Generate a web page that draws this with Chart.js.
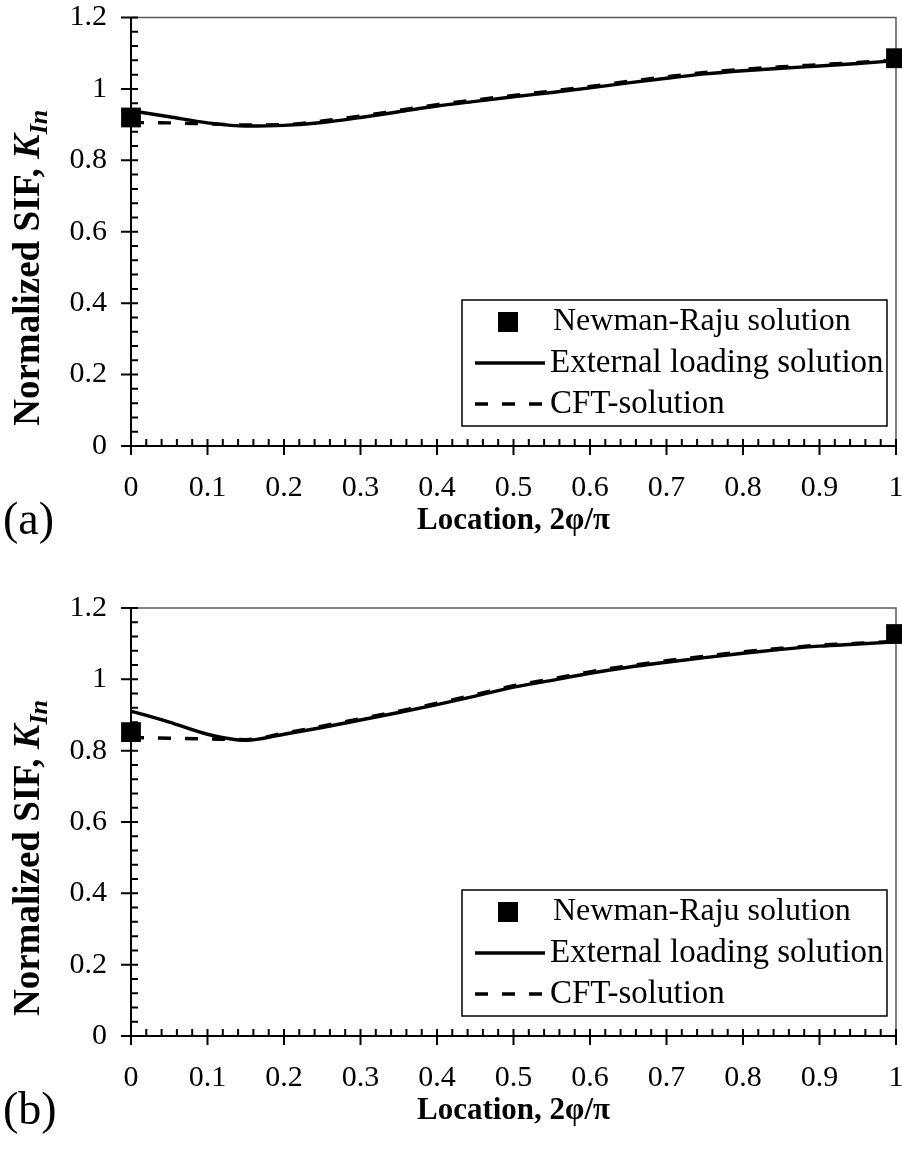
<!DOCTYPE html>
<html>
<head>
<meta charset="utf-8">
<script src="https://cdn.jsdelivr.net/npm/chart.js@4.4.1/dist/chart.umd.min.js"></script>
<style>
  body { margin: 0; background: #fff; }
  canvas { display: block; }
</style>
</head>
<body>
<canvas id="chartA" width="902" height="575"></canvas>
<canvas id="chartB" width="902" height="574"></canvas>
<script>
// location along the crack front, 2phi/pi
const locations = [0, 0.05, 0.1, 0.15, 0.2, 0.25, 0.3, 0.35, 0.4, 0.45, 0.5,
                   0.55, 0.6, 0.65, 0.7, 0.75, 0.8, 0.85, 0.9, 0.95, 1];

// (a)
const externalA = [0.939, 0.922, 0.905, 0.896, 0.898, 0.906, 0.920, 0.936, 0.952, 0.965, 0.978,
                   0.990, 1.003, 1.017, 1.030, 1.042, 1.051, 1.058, 1.064, 1.071, 1.079];
const cftA = [0.906, 0.905, 0.902, 0.899, 0.900, 0.910, 0.924, 0.940, 0.956, 0.969, 0.982,
              0.994, 1.007, 1.021, 1.034, 1.046, 1.055, 1.062, 1.068, 1.074, 1.081];
const newmanX = [0, 1];
const newmanA = [0.920, 1.086];

// (b)
const externalB = [0.911, 0.880, 0.846, 0.829, 0.846, 0.865, 0.886, 0.907, 0.929, 0.953, 0.978,
                   0.997, 1.017, 1.034, 1.048, 1.061, 1.073, 1.084, 1.093, 1.099, 1.105];
const cftB = [0.837, 0.835, 0.833, 0.831, 0.849, 0.869, 0.890, 0.911, 0.933, 0.957, 0.982,
              1.001, 1.021, 1.038, 1.052, 1.065, 1.077, 1.087, 1.096, 1.101, 1.107];
const newmanB = [0.852, 1.127];

const legendLabels = ['Newman-Raju solution', 'External loading solution', 'CFT-solution'];
const xTickStep = 0.1, xMinorStep = 0.02;
const yTickStep = 0.2, yMinorStep = 0.04;

const SERIF = '"Liberation Serif", "Times New Roman", serif';

function toPoints(xs, ys) {
    return xs.map((x, i) => ({ x: x, y: ys[i] }));
}

function tickText(v) {
    return String(Number(v.toFixed(2)));
}

// axes, tick marks, plot border, legend and titles
const axesPlugin = {
    id: 'sifAxes',
    beforeDatasetsDraw(chart) {
        const ctx = chart.ctx;
        const a = chart.chartArea;
        const xs = chart.scales.x, ys = chart.scales.y;
        ctx.save();
        ctx.strokeStyle = '#595959';
        ctx.lineWidth = 1.5;
        ctx.beginPath();
        ctx.moveTo(a.left, a.top);
        ctx.lineTo(a.right, a.top);
        ctx.lineTo(a.right, a.bottom);
        ctx.stroke();

        ctx.strokeStyle = '#000';
        ctx.lineWidth = 2;
        ctx.beginPath();
        ctx.moveTo(a.left - 10, a.bottom);
        ctx.lineTo(a.right, a.bottom);
        ctx.moveTo(a.left, a.top);
        ctx.lineTo(a.left, a.bottom + 9);
        for (let i = 0; i <= Math.round(1 / xMinorStep); i++) {
            const px = xs.getPixelForValue(i * xMinorStep);
            const major = i % Math.round(xTickStep / xMinorStep) === 0;
            ctx.moveTo(px, a.bottom - 7);
            ctx.lineTo(px, major ? a.bottom + 9 : a.bottom);
        }
        for (let i = 0; i <= Math.round(1.2 / yMinorStep); i++) {
            const py = ys.getPixelForValue(i * yMinorStep);
            const major = i % Math.round(yTickStep / yMinorStep) === 0;
            ctx.moveTo(a.left + 7, py);
            ctx.lineTo(major ? a.left - 10 : a.left, py);
        }
        ctx.stroke();
        ctx.restore();
    },
    afterDraw(chart, args, opts) {
        const ctx = chart.ctx;
        const a = chart.chartArea;
        const ds = chart.data.datasets;
        ctx.save();

        // legend box
        const bw = 425, bh = 126;
        const bx = a.right - 9 - bw, by = a.bottom - 20 - bh;
        ctx.fillStyle = '#fff';
        ctx.fillRect(bx, by, bw, bh);
        ctx.strokeStyle = '#000';
        ctx.lineWidth = 1.5;
        ctx.strokeRect(bx, by, bw, bh);

        const rows = [by + 22, by + 63, by + 104];
        ctx.fillStyle = '#000';
        ctx.fillRect(bx + 46 - 10, rows[0] - 10, 20, 20);
        [1, 2].forEach(k => {
            ctx.beginPath();
            ctx.lineWidth = ds[k].borderWidth;
            ctx.setLineDash(ds[k].borderDash || []);
            ctx.moveTo(bx + 13, rows[k]);
            ctx.lineTo(bx + 83, rows[k]);
            ctx.stroke();
        });
        ctx.setLineDash([]);
        ctx.font = '32px ' + SERIF;
        ctx.textBaseline = 'middle';
        ctx.textAlign = 'left';
        ctx.fillText(legendLabels[0], bx + 91, rows[0]);
        ctx.font = '33px ' + SERIF;
        ctx.fillText(legendLabels[1], bx + 88, rows[1]);
        ctx.fillText(legendLabels[2], bx + 88, rows[2]);

        // x axis title
        ctx.font = 'bold 31px ' + SERIF;
        ctx.textAlign = 'center';
        ctx.fillText('Location, 2\u03c6/\u03c0', (a.left + a.right) / 2, a.bottom + 75);

        // panel label
        ctx.font = '46px ' + SERIF;
        ctx.textAlign = 'left';
        ctx.fillText(opts.label, 3, a.bottom + 76);

        // y axis title with subscript
        const main = 'Normalized SIF, ';
        const fMain = 'bold 37px ' + SERIF;
        const fK = 'italic bold 37px ' + SERIF;
        const fSub = 'italic bold 26px ' + SERIF;
        ctx.font = fMain; const w1 = ctx.measureText(main).width;
        ctx.font = fK; const w2 = ctx.measureText('K').width;
        ctx.font = fSub; const w3 = ctx.measureText('In').width;
        const total = w1 + w2 + w3;
        ctx.translate(39, (a.top + a.bottom) / 2 + 36);
        ctx.rotate(-Math.PI / 2);
        ctx.textBaseline = 'alphabetic';
        let x0 = -total / 2;
        ctx.font = fMain; ctx.fillText(main, x0, 0); x0 += w1;
        ctx.font = fK; ctx.fillText('K', x0, 0); x0 += w2;
        ctx.font = fSub; ctx.fillText('In', x0, 8);
        ctx.restore();
    }
};

function makeChart(id, external, cft, newman, label, padTop, xHeight) {
    const ctx = document.getElementById(id).getContext('2d');
    return new Chart(ctx, {
        type: 'line',
        data: {
            datasets: [
                {
                    label: legendLabels[0],
                    data: toPoints(newmanX, newman),
                    showLine: false,
                    pointStyle: 'rect',
                    pointRadius: 14,
                    pointBackgroundColor: '#000',
                    pointBorderWidth: 0,
                    borderColor: '#000',
                    clip: false
                },
                {
                    label: legendLabels[1],
                    data: toPoints(locations, external),
                    borderColor: '#000',
                    borderWidth: 3.4,
                    pointRadius: 0,
                    cubicInterpolationMode: 'monotone',
                    clip: false
                },
                {
                    label: legendLabels[2],
                    data: toPoints(locations, cft),
                    borderColor: '#000',
                    borderWidth: 3.4,
                    borderDash: [13, 14],
                    pointRadius: 0,
                    cubicInterpolationMode: 'monotone',
                    clip: false
                }
            ]
        },
        options: {
            responsive: false,
            animation: false,
            layout: { autoPadding: false, padding: { top: padTop, right: 6, left: 0, bottom: 0 } },
            plugins: {
                legend: { display: false },
                tooltip: { enabled: false },
                sifAxes: { label: label }
            },
            scales: {
                x: {
                    type: 'linear',
                    min: 0,
                    max: 1,
                    grid: { display: false, drawTicks: false },
                    border: { display: false },
                    ticks: {
                        stepSize: xTickStep,
                        color: '#000',
                        padding: 24,
                        maxRotation: 0,
                        callback: tickText,
                        font: { family: SERIF, size: 30 }
                    },
                    afterFit: s => {
                        s.height = xHeight;
                        s.paddingLeft = 0;
                        s.paddingRight = 0;
                    }
                },
                y: {
                    type: 'linear',
                    min: 0,
                    max: 1.2,
                    grid: { display: false, drawTicks: false },
                    border: { display: false },
                    ticks: {
                        stepSize: yTickStep,
                        color: '#000',
                        padding: 24,
                        callback: tickText,
                        font: { family: SERIF, size: 30 }
                    },
                    afterFit: s => {
                        s.width = 131;
                        s.paddingTop = 0;
                        s.paddingBottom = 0;
                    }
                }
            }
        },
        plugins: [axesPlugin]
    });
}

makeChart('chartA', externalA, cftA, newmanA, '(a)', 17.5, 129);
makeChart('chartB', externalB, cftB, newmanB, '(b)', 33, 113);
</script>
</body>
</html>
